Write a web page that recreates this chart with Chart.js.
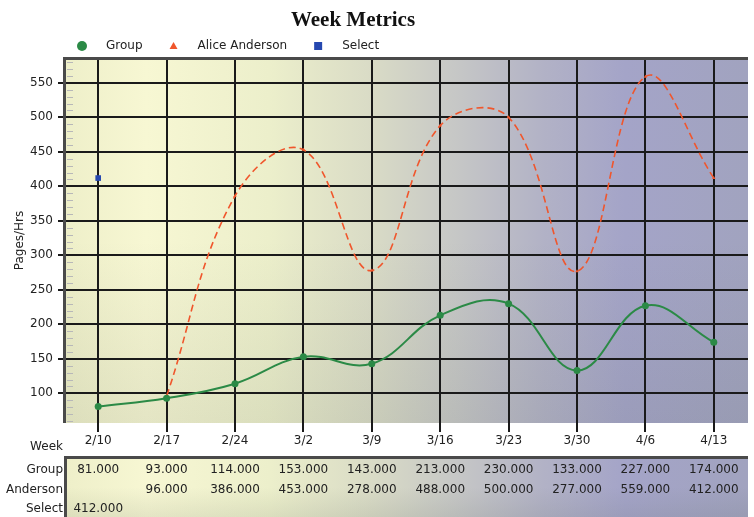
<!DOCTYPE html>
<html>
<head>
<meta charset="utf-8">
<title>Week Metrics</title>
<script src="https://cdn.jsdelivr.net/npm/chart.js@4.4.1/dist/chart.umd.min.js"></script>
<style>
  html, body { margin: 0; padding: 0; background: #fff; }
</style>
</head>
<body>
<canvas id="chart" width="754" height="517"></canvas>
<script>
// data
const weeks = ['2/10', '2/17', '2/24', '3/2', '3/9', '3/16', '3/23', '3/30', '4/6', '4/13'];
const groupValues = [81, 93, 114, 153, 143, 213, 230, 133, 227, 174];
const andersonValues = [null, 96, 386, 453, 278, 488, 500, 277, 559, 412];
const selectValues = [412, null, null, null, null, null, null, null, null, null];
const yTicks = [100, 150, 200, 250, 300, 350, 400, 450, 500, 550];
const legendLabels = ['Group', 'Alice Anderson', 'Select'];
const tableLabels = ['Group', 'Anderson', 'Select'];
const chartTitle = 'Week Metrics';

const GREEN = '#2b8a46';
const ORANGE = '#f0562c';
const BLUE = '#2648b0';
const FONT = 'DejaVu Sans, sans-serif';
const TEXT = '#222';

// gradient used for both the plot and the table panel
function fillPanel(ctx, left, right, top, bottom) {
    const g = ctx.createLinearGradient(left, 0, right, 0);
    g.addColorStop(0, '#eeefc9');
    g.addColorStop(0.12, '#f7f7d3');
    g.addColorStop(0.3, '#ecefcb');
    g.addColorStop(0.45, '#d9dbc6');
    g.addColorStop(0.58, '#c5c6c6');
    g.addColorStop(0.7, '#b2b2c6');
    g.addColorStop(0.82, '#a4a4c8');
    g.addColorStop(1, '#a1a3bf');
    ctx.fillStyle = g;
    ctx.fillRect(left, top, right - left, bottom - top);

    const shade = ctx.createLinearGradient(0, top, 0, bottom);
    shade.addColorStop(0, 'rgba(90,100,90,0)');
    shade.addColorStop(0.5, 'rgba(90,100,90,0)');
    shade.addColorStop(1, 'rgba(90,100,90,0.12)');
    ctx.fillStyle = shade;
    ctx.fillRect(left, top, right - left, bottom - top);
}

function drawMarker(ctx, style, x, y, color) {
    ctx.fillStyle = color;
    ctx.beginPath();
    if (style === 'circle') {
        ctx.arc(x, y, 5, 0, Math.PI * 2);
    } else if (style === 'triangle') {
        ctx.moveTo(x, y - 4);
        ctx.lineTo(x + 4, y + 3);
        ctx.lineTo(x - 4, y + 3);
        ctx.closePath();
    } else {
        ctx.rect(x - 4, y - 4, 8, 8);
    }
    ctx.fill();
}

const decorations = {
    id: 'decorations',
    beforeDraw(chart) {
        const { ctx, chartArea: a } = chart;
        const y = chart.scales.y;
        ctx.save();
        fillPanel(ctx, a.left, a.right, a.top, a.bottom);

        // light minor ticks along the inner left edge
        ctx.strokeStyle = '#b8b8b8';
        ctx.lineWidth = 1;
        for (let v = 60; v < y.max; v += 10) {
            if (v % 50 === 0) continue;
            const py = Math.round(y.getPixelForValue(v)) + 0.5;
            ctx.beginPath();
            ctx.moveTo(a.left + 3, py);
            ctx.lineTo(a.left + 9, py);
            ctx.stroke();
        }
        ctx.restore();
    },
    afterDraw(chart) {
        const { ctx, chartArea: a } = chart;
        const x = chart.scales.x;
        ctx.save();

        // title, sits left of centre like the original
        ctx.fillStyle = '#111';
        ctx.font = 'bold 21px Liberation Serif, serif';
        ctx.textAlign = 'center';
        ctx.textBaseline = 'middle';
        ctx.fillText(chartTitle, 353, 21);

        // inset border, top and left only
        ctx.fillStyle = '#4a4a4a';
        ctx.fillRect(a.left - 1, a.top - 1, a.right - a.left + 1, 3);
        ctx.fillRect(a.left - 1, a.top - 1, 3, a.bottom - a.top + 1);

        // legend
        const styles = ['circle', 'triangle', 'rect'];
        const colors = [GREEN, ORANGE, BLUE];
        ctx.font = '12px ' + FONT;
        ctx.textAlign = 'left';
        let lx = 82;
        legendLabels.forEach((label, i) => {
            drawMarker(ctx, styles[i], lx, 46, colors[i]);
            ctx.fillStyle = TEXT;
            ctx.fillText(label, lx + 24, 46);
            lx += 24 + ctx.measureText(label).width + 31;
        });

        // data table under the axis
        const top = 457;
        const bottom = chart.height;
        fillPanel(ctx, a.left + 1, a.right, top, bottom);
        ctx.fillStyle = '#4a4a4a';
        ctx.fillRect(a.left, top - 1, a.right - a.left, 3);
        ctx.fillRect(a.left, top - 1, 3, bottom - top + 1);

        ctx.fillStyle = TEXT;
        ctx.textAlign = 'right';
        ctx.fillText('Week', a.left - 1, 447);

        const rows = [groupValues, andersonValues, selectValues];
        const rowY = [470, 490, 509];
        rows.forEach((values, r) => {
            ctx.textAlign = 'right';
            ctx.fillText(tableLabels[r], a.left - 1, rowY[r]);
            ctx.textAlign = 'center';
            values.forEach((v, i) => {
                if (v === null) return;
                ctx.fillText(v.toFixed(3), x.getPixelForValue(i), rowY[r]);
            });
        });
        ctx.restore();
    }
};

new Chart(document.getElementById('chart'), {
    type: 'line',
    data: {
        labels: weeks,
        datasets: [
            {
                label: legendLabels[0],
                data: groupValues,
                borderColor: GREEN,
                backgroundColor: GREEN,
                borderWidth: 2,
                tension: 0.4,
                pointStyle: 'circle',
                pointRadius: 3.5,
                pointBorderWidth: 0
            },
            {
                label: legendLabels[1],
                data: andersonValues,
                borderColor: ORANGE,
                backgroundColor: ORANGE,
                borderWidth: 1.6,
                borderDash: [7, 4],
                tension: 0.4,
                pointStyle: 'triangle',
                pointRadius: 2,
                pointBorderWidth: 0
            },
            {
                label: legendLabels[2],
                data: selectValues,
                borderColor: BLUE,
                backgroundColor: BLUE,
                showLine: false,
                pointStyle: 'rect',
                pointRadius: 4,
                pointBorderWidth: 0
            }
        ]
    },
    options: {
        responsive: false,
        animation: false,
        layout: { padding: { left: 0, right: 6, top: 58, bottom: 60 } },
        plugins: {
            legend: { display: false },
            tooltip: { enabled: false },
            title: { display: false }
        },
        scales: {
            x: {
                offset: true,
                border: { display: false },
                grid: { color: '#1a1a1a', lineWidth: 2, tickLength: 9, offset: false },
                ticks: { color: TEXT, font: { family: FONT, size: 12 }, padding: 2, maxRotation: 0 },
                afterFit(scale) { scale.height = 34; }
            },
            y: {
                min: 57,
                max: 586,
                border: { display: false },
                grid: { color: '#1a1a1a', lineWidth: 2, tickLength: 6 },
                ticks: { color: TEXT, font: { family: FONT, size: 12 }, padding: 5 },
                title: {
                    display: true,
                    text: 'Pages/Hrs',
                    color: TEXT,
                    font: { family: FONT, size: 12 },
                    padding: { top: 13, bottom: 0 }
                },
                afterBuildTicks(scale) { scale.ticks = yTicks.map(v => ({ value: v })); },
                afterFit(scale) { scale.width = 64; }
            }
        }
    },
    plugins: [decorations]
});
</script>
</body>
</html>
